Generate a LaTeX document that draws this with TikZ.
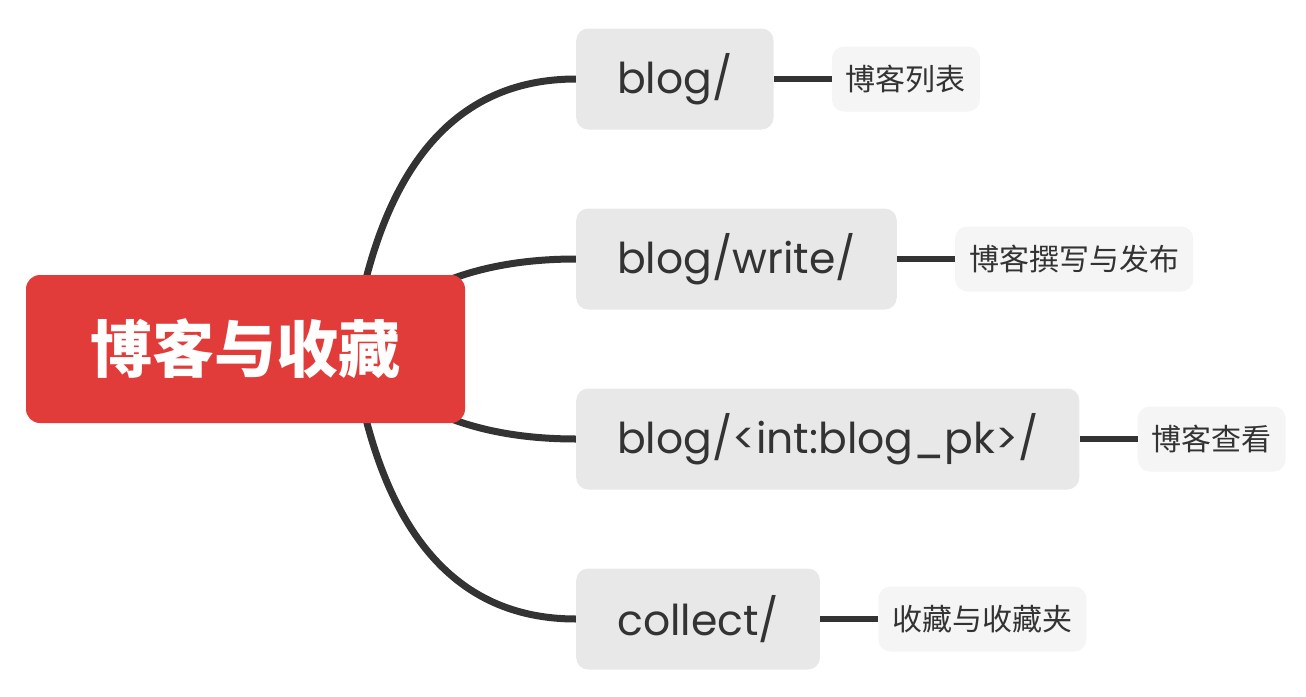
\documentclass[tikz,border=0pt]{standalone}
\usepackage{fontspec}
\setmainfont{Poppins}
\newfontfamily\cjk{Noto Sans CJK SC}
\usetikzlibrary{calc,positioning,backgrounds}
\definecolor{rootred}{HTML}{E23C3A}
\definecolor{branchgray}{HTML}{E8E8E8}
\definecolor{leafgray}{HTML}{F5F5F5}
\definecolor{inkdark}{HTML}{333333}

\begin{document}
\begin{tikzpicture}[
    x=1pt, y=-1pt,
    root/.style={fill=rootred, text=white, rounded corners=14pt,
      minimum width=439pt, minimum height=148pt,
      font=\cjk\bfseries\fontsize{62}{62}\selectfont},
    branch/.style={fill=branchgray, text=inkdark, rounded corners=12pt,
      minimum height=101pt, inner xsep=41pt, anchor=west,
      font=\fontsize{42.5}{42.5}\selectfont},
    leaf/.style={fill=leafgray, text=inkdark, rounded corners=12pt,
      minimum height=65pt, inner xsep=14pt,
      font=\cjk\fontsize{30}{30}\selectfont},
    link/.style={line width=7pt, draw=inkdark},
    tie/.style={line width=6pt, draw=inkdark}
  ]
    \useasboundingbox (0,0) rectangle (1306,696);
    \node[root] (topic) at (245.5,349) {博客与收藏};
    \node[branch] (blog) at (576,79) {blog/};
    \node[branch] (write) at (576,259) {blog/write/};
    \node[branch] (detail) at (576,439) {blog/<int:blog\_pk>/};
    \node[branch] (collect) at (576,619) {collect/};
    \node[leaf, right=58pt of blog] (bloglist) {博客列表};
    \node[leaf, right=58pt of write] (blogwrite) {博客撰写与发布};
    \node[leaf, right=58pt of detail] (blogview) {博客查看};
    \node[leaf, right=58pt of collect] (favs) {收藏与收藏夹};

    \coordinate (hub) at ([xshift=106.5pt]topic.center);
    \begin{scope}[on background layer]
      \foreach \b/\d in {blog/40,write/74,detail/74,collect/40}{
        \coordinate (bend) at ($(hub |- \b.west)+(\d,0)$);
        \draw[link] (hub) .. controls ($(hub)!.667!(bend)$) and ($(\b.west)!.667!(bend)$) .. (\b.west);
      }
    \end{scope}
    \draw[tie] (blog) -- (bloglist);
    \draw[tie] (write) -- (blogwrite);
    \draw[tie] (detail) -- (blogview);
    \draw[tie] (collect) -- (favs);
  \end{tikzpicture}
\end{document}
